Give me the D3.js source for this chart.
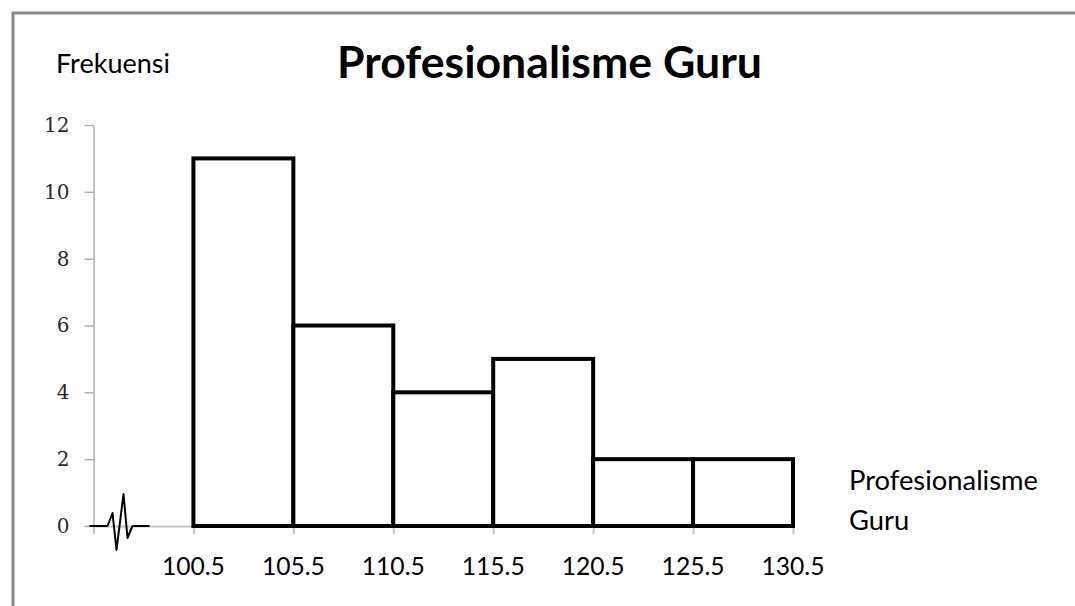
<!DOCTYPE html>
<html>
<head>
<meta charset="utf-8">
<script src="https://cdn.jsdelivr.net/npm/d3@7/dist/d3.min.js"></script>
<style>
  html, body { margin: 0; padding: 0; background: #fff; }
  svg { display: block; }
</style>
</head>
<body>
<svg id="chart" width="1075" height="606"></svg>
<script>
// ---- data ----
const binEdges = [100.5, 105.5, 110.5, 115.5, 120.5, 125.5, 130.5];
const frequencies = [11, 6, 4, 5, 2, 2];
const yTicks = [0, 2, 4, 6, 8, 10, 12];
const xTickLabels = ["100.5", "105.5", "110.5", "115.5", "120.5", "125.5", "130.5"];
const axisStart = 95.5;
const titleText = "Profesionalisme Guru";
const yTitle = "Frekuensi";
const xTitleLines = ["Profesionalisme", "Guru"];

const bins = frequencies.map((f, i) => ({ x0: binEdges[i], x1: binEdges[i + 1], f }));

const svg = d3.select("#chart");
const W = 1075, H = 606;

const x = d3.scaleLinear().domain([axisStart, 130.5]).range([93.5, 793]);
const y = d3.scaleLinear().domain([0, 12]).range([526, 125]);

function fitSize(node, size, target) {
  const len = node.getComputedTextLength();
  return len > 0 ? +(size * target / len).toFixed(2) : size;
}

// frame border (left + top)
svg.append("path")
  .attr("d", `M13,${H} L13,13 L${W},13`)
  .attr("fill", "none")
  .attr("stroke", "#8a8a8a")
  .attr("stroke-width", 3);

// y axis
const yAxis = svg.append("g")
  .attr("transform", `translate(${x(axisStart)},0)`)
  .call(d3.axisLeft(y).tickValues(yTicks).tickSize(9).tickSizeOuter(0).tickPadding(15));
yAxis.select(".domain").attr("stroke", "#c4c4c4").attr("stroke-width", 2);
yAxis.selectAll(".tick line").attr("stroke", "#b0b0b0").attr("stroke-width", 1.5);
yAxis.selectAll(".tick text")
  .attr("font-family", "'DejaVu Serif', 'Liberation Serif', serif")
  .attr("font-size", 20)
  .attr("fill", "#2a2a2a");

// x axis (tick marks at bin edges)
const xAxis = svg.append("g")
  .attr("transform", `translate(0,${y(0)})`)
  .call(d3.axisBottom(x).tickValues([axisStart].concat(binEdges)).tickSize(8).tickSizeOuter(0).tickFormat(""));
xAxis.select(".domain").attr("stroke", "#c4c4c4").attr("stroke-width", 2);
xAxis.selectAll(".tick line").attr("stroke", "#c4c4c4").attr("stroke-width", 2);

// x tick labels
const xl = svg.append("g").selectAll("text")
  .data(binEdges)
  .join("text")
  .attr("x", d => x(d))
  .attr("y", 575)
  .attr("text-anchor", "middle")
  .attr("font-family", "Lato, 'Open Sans', sans-serif")
  .attr("font-size", 24)
  .attr("fill", "#000")
  .text((d, i) => xTickLabels[i]);
const xlSize = fitSize(xl.node(), 24, 63);
xl.attr("font-size", xlSize);

// bars
svg.append("g").selectAll("rect")
  .data(bins)
  .join("rect")
  .attr("x", d => x(d.x0))
  .attr("y", d => y(d.f))
  .attr("width", d => x(d.x1) - x(d.x0))
  .attr("height", d => y(0) - y(d.f))
  .attr("fill", "#fff")
  .attr("stroke", "#000")
  .attr("stroke-width", 4);

// axis break squiggle (decoration relative to origin)
const ox = x(axisStart), oy = y(0);
const squiggle = [[-4,0],[14,0],[19,-13],[23,24],[30,-32],[34,12],[39,0],[56,0]];
svg.append("path")
  .attr("d", d3.line()(squiggle.map(p => [ox + p[0], oy + p[1]])))
  .attr("fill", "none")
  .attr("stroke", "#000")
  .attr("stroke-width", 2)
  .attr("stroke-linejoin", "round");

// title
const t = svg.append("text")
  .attr("x", 337).attr("y", 78)
  .attr("font-family", "Lato, 'Open Sans', sans-serif")
  .attr("font-weight", "bold")
  .attr("font-size", 38)
  .attr("fill", "#000")
  .text(titleText);
t.attr("font-size", fitSize(t.node(), 38, 425));

// y title
const yt = svg.append("text")
  .attr("x", 56).attr("y", 73)
  .attr("font-family", "Lato, 'Open Sans', sans-serif")
  .attr("font-size", 25)
  .attr("fill", "#000")
  .text(yTitle);
yt.attr("font-size", fitSize(yt.node(), 25, 114));

// x title (two lines)
const xt = svg.append("g").selectAll("text")
  .data(xTitleLines)
  .join("text")
  .attr("x", 849)
  .attr("y", (d, i) => 490 + i * 40)
  .attr("font-family", "Lato, 'Open Sans', sans-serif")
  .attr("font-size", 24)
  .attr("fill", "#000")
  .text(d => d);
xt.attr("font-size", fitSize(xt.node(), 24, 189));
</script>
</body>
</html>
